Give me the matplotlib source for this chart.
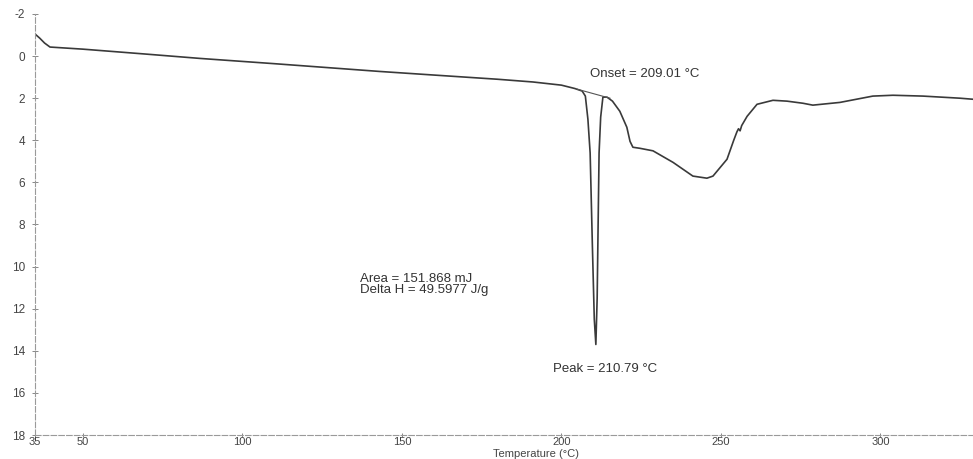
import matplotlib
matplotlib.use("Agg")
import matplotlib.pyplot as plt

plt.rcParams['font.family'] = ['Liberation Sans', 'DejaVu Sans']
plt.rcParams['axes.unicode_minus'] = False

# DSC heat flow trace (temperature in degC, heat flow)
temp = [35.0, 36.5, 38.0, 39.7, 50.0, 69.4, 86.7, 110.0, 143.1, 160.0,
        180.0, 191.1, 200.0, 204.2, 206.5, 207.5, 208.3, 209.0, 209.7, 210.3,
        210.79, 211.2, 211.5, 211.8, 212.3, 213.0, 214.3, 216.0, 218.3, 220.5,
        221.5, 222.4, 224.6, 228.7, 235.0, 241.2, 245.6, 247.5, 251.9, 254.0,
        255.0, 255.5, 256.0, 256.5, 258.2, 261.3, 266.3, 270.7, 275.7, 278.8,
        287.3, 297.6, 303.9, 313.3, 324.9, 329.0]
heat = [-1.05, -0.85, -0.62, -0.43, -0.33, -0.10, 0.11, 0.36, 0.73, 0.90,
        1.10, 1.23, 1.38, 1.54, 1.66, 1.90, 3.00, 4.60, 9.00, 12.50,
        13.70, 11.50, 8.00, 4.60, 2.90, 1.95, 1.95, 2.14, 2.62, 3.38,
        4.05, 4.33, 4.38, 4.50, 5.05, 5.70, 5.80, 5.70, 4.90, 4.00,
        3.60, 3.45, 3.55, 3.30, 2.86, 2.29, 2.10, 2.14, 2.24, 2.33,
        2.20, 1.90, 1.86, 1.90, 2.00, 2.05]

# tangent baseline under the melting peak
base_t = [204.9, 215.2]
base_h = [1.57, 2.00]

xticks = [35, 50, 100, 150, 200, 250, 300]
yticks = [-2, 0, 2, 4, 6, 8, 10, 12, 14, 16, 18]

fig = plt.figure(figsize=(9.73, 4.59), dpi=100)
W, H = 973, 459
ax = fig.add_axes([35 / W, (H - 435) / H, (W - 35) / W, (435 - 14) / H])

ax.plot(temp, heat, color='#3a3a3a', lw=1.2)
ax.plot(base_t, base_h, color='#555555', lw=0.8)

ax.set_xlim(35, 329)
ax.set_ylim(18, -2)
ax.set_xticks(xticks)
ax.set_yticks(yticks)

for side in ('top', 'right'):
    ax.spines[side].set_visible(False)
for side in ('left', 'bottom'):
    ax.spines[side].set_color('#9a9a9a')
    ax.spines[side].set_linestyle((0, (5, 2)))
    ax.spines[side].set_linewidth(0.8)

ax.tick_params(axis='both', direction='inout', length=4, width=0.7,
               color='#888888', labelsize=8.5, labelcolor='#444444')
ax.tick_params(axis='x', pad=0, length=3, labelsize=8)
ax.tick_params(axis='y', pad=5)

ax.set_xlabel('Temperature (°C)', fontsize=8, color='#444444', va='bottom')
ax.xaxis.set_label_coords((536 - 35) / 938, -0.056)

txt = dict(fontsize=9.5, color='#333333')
ax.text(226.2, 0.85, 'Onset = 209.01 °C', ha='center', va='center', **txt)
ax.text(213.6, 14.85, 'Peak = 210.79 °C', ha='center', va='center', **txt)
ax.text(136.8, 10.6, 'Area = 151.868 mJ', ha='left', va='center', **txt)
ax.text(136.8, 11.12, 'Delta H = 49.5977 J/g', ha='left', va='center', **txt)

fig.savefig('out.png', dpi=100)
